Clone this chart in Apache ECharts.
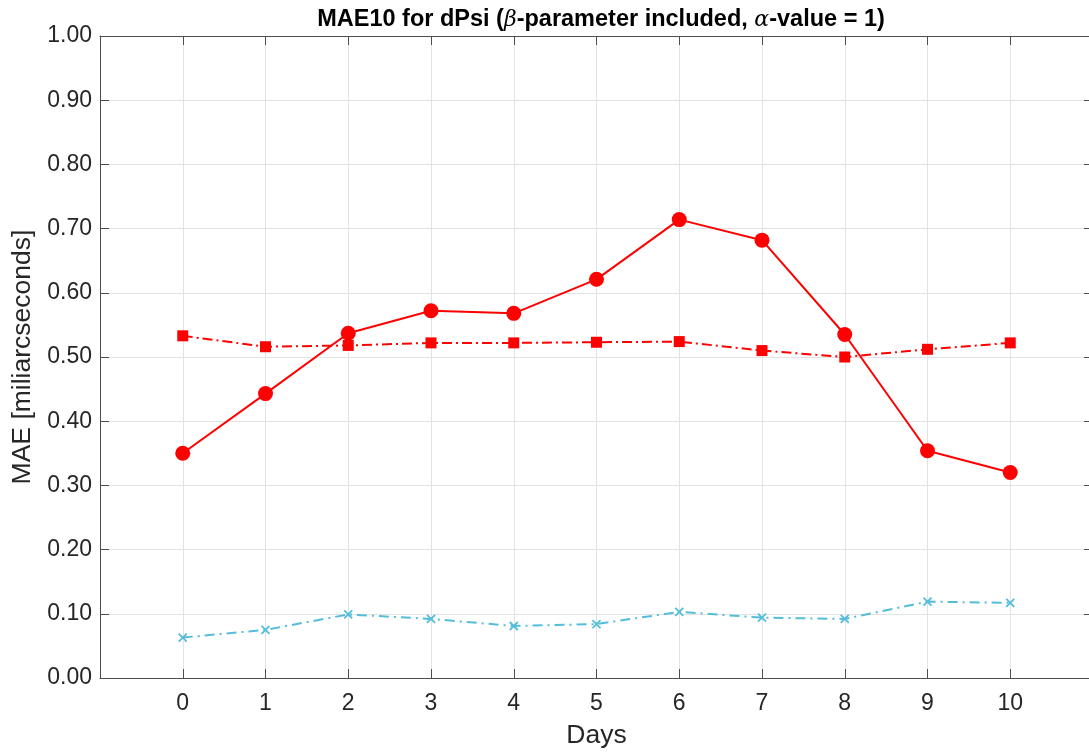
<!DOCTYPE html>
<html>
<head>
<meta charset="utf-8">
<script src="https://cdn.jsdelivr.net/npm/echarts@6/dist/echarts.min.js"></script>
<style>html,body{margin:0;padding:0;background:#fff;}#c{width:1089px;height:754px;}</style>
</head>
<body>
<div id="c"></div>
<script>
const days = [0, 1, 2, 3, 4, 5, 6, 7, 8, 9, 10];
const maeCircle = [0.350, 0.443, 0.537, 0.572, 0.568, 0.621, 0.714, 0.682, 0.535, 0.354, 0.320];
const maeSquare = [0.533, 0.516, 0.518, 0.522, 0.522, 0.523, 0.524, 0.510, 0.500, 0.512, 0.522];
const maeCross = [0.063, 0.075, 0.099, 0.092, 0.081, 0.084, 0.103, 0.094, 0.092, 0.119, 0.117];
const yTicks = [0, 0.1, 0.2, 0.3, 0.4, 0.5, 0.6, 0.7, 0.8, 0.9, 1.0];

const font = '"Liberation Sans", Arial, sans-serif';
const axisCol = '#4d4d4d';
const textCol = '#262626';
const gridCol = '#e3e3e3';
const cyan = '#54bdd9';

function pairs(vals) { return days.map((d, i) => [d, vals[i]]); }

const chart = echarts.init(document.getElementById('c'), null, {renderer: 'canvas'});
chart.setOption({
  animation: false,
  backgroundColor: '#ffffff',
  title: {
    text: '{b|MAE10 for dPsi (}{i|β}{b|-parameter included, }{i|α}{b|-value = 1)}',
    left: 596, top: 3, textAlign: 'center',
    textStyle: {
      rich: {
        b: {fontFamily: font, fontWeight: 'bold', fontSize: 23.5, color: '#000'},
        i: {fontFamily: '"DejaVu Serif", serif', fontStyle: 'italic', fontWeight: 'normal', fontSize: 22, color: '#000'}
      }
    }
  },
  grid: {left: 100, top: 36, width: 993, height: 642, containLabel: false, outerBoundsMode: 'none'},
  xAxis: [{
    type: 'value', min: -1, max: 11, interval: 1,
    name: 'Days', nameLocation: 'middle', nameGap: 44,
    nameTextStyle: {fontFamily: font, fontSize: 26.5, color: textCol},
    axisLine: {show: true, onZero: false, lineStyle: {color: axisCol, width: 1}},
    axisTick: {show: true, inside: true, length: 9, lineStyle: {color: axisCol}},
    axisLabel: {fontFamily: font, fontSize: 23, color: textCol, margin: 14,
      formatter: v => (v < 0 || v > 10) ? '' : String(v)},
    splitLine: {show: true, lineStyle: {color: gridCol, width: 1}}
  }, {
    type: 'value', position: 'top', min: -1, max: 11, interval: 1,
    axisLine: {show: true, onZero: false, lineStyle: {color: axisCol, width: 1}},
    axisTick: {show: true, inside: true, length: 9, lineStyle: {color: axisCol}},
    axisLabel: {show: false}, splitLine: {show: false}
  }],
  yAxis: [{
    type: 'value', min: 0, max: 1, interval: 0.1,
    name: 'MAE [miliarcseconds]', nameLocation: 'middle', nameGap: 56,
    nameTextStyle: {fontFamily: font, fontSize: 26.5, color: textCol},
    axisLine: {show: true, onZero: false, lineStyle: {color: axisCol, width: 1}},
    axisTick: {show: true, inside: true, length: 9, lineStyle: {color: axisCol}},
    axisLabel: {fontFamily: font, fontSize: 23, color: textCol, margin: 8,
      formatter: v => v.toFixed(2)},
    splitLine: {show: true, lineStyle: {color: gridCol, width: 1}}
  }, {
    type: 'value', position: 'right', min: 0, max: 1, interval: 0.1,
    axisLine: {show: true, onZero: false, lineStyle: {color: axisCol, width: 1}},
    axisTick: {show: true, inside: true, length: 9, lineStyle: {color: axisCol}},
    axisLabel: {show: false}, splitLine: {show: false}
  }],
  series: [{
    type: 'line', data: pairs(maeCircle),
    symbol: 'circle', symbolSize: 15,
    lineStyle: {color: '#ff0000', width: 2, type: 'solid'},
    itemStyle: {color: '#ff0000'}, z: 3
  }, {
    type: 'line', data: pairs(maeSquare),
    symbol: 'rect', symbolSize: 11,
    lineStyle: {color: '#ff0000', width: 2, type: [10, 4, 2, 4]},
    itemStyle: {color: '#ff0000'}, z: 2
  }, {
    type: 'line', data: pairs(maeCross),
    symbol: 'path://M0,0L10,10M10,0L0,10', symbolSize: 8,
    lineStyle: {color: cyan, width: 2, type: [10, 5, 2, 5]},
    itemStyle: {color: 'none', borderColor: cyan, borderWidth: 1.8}, z: 2
  }]
});
</script>
</body>
</html>
